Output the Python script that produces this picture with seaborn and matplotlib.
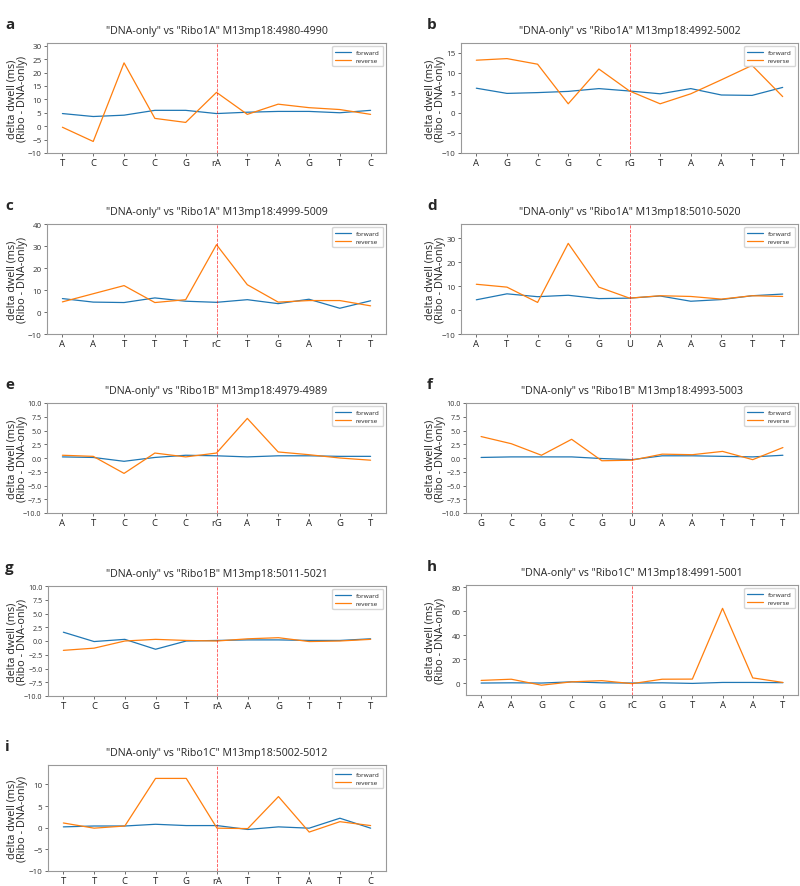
"""
Delta dwell time, Ribo vs DNA-only, per position around the ribonucleotide.
"""

import matplotlib
matplotlib.use("Agg")
import matplotlib.pyplot as plt
import pandas as pd
import seaborn as sns

# ---- data ----
titles = [
    '"DNA-only" vs "Ribo1A" M13mp18:4980-4990',
    '"DNA-only" vs "Ribo1A" M13mp18:4992-5002',
    '"DNA-only" vs "Ribo1A" M13mp18:4999-5009',
    '"DNA-only" vs "Ribo1A" M13mp18:5010-5020',
    '"DNA-only" vs "Ribo1B" M13mp18:4979-4989',
    '"DNA-only" vs "Ribo1B" M13mp18:4993-5003',
    '"DNA-only" vs "Ribo1B" M13mp18:5011-5021',
    '"DNA-only" vs "Ribo1C" M13mp18:4991-5001',
    '"DNA-only" vs "Ribo1C" M13mp18:5002-5012',
]
panel_letters = ["a", "b", "c", "d", "e", "f", "g", "h", "i"]

bases_a = ["T", "C", "C", "C", "G", "rA", "T", "A", "G", "T", "C"]
bases_b = ["A", "G", "C", "G", "C", "rG", "T", "A", "A", "T", "T"]
bases_c = ["A", "A", "T", "T", "T", "rC", "T", "G", "A", "T", "T"]
bases_d = ["A", "T", "C", "G", "G", "U", "A", "A", "G", "T", "T"]
bases_e = ["A", "T", "C", "C", "C", "rG", "A", "T", "A", "G", "T"]
bases_f = ["G", "C", "G", "C", "G", "U", "A", "A", "T", "T", "T"]
bases_g = ["T", "C", "G", "G", "T", "rA", "A", "G", "T", "T", "T"]
bases_h = ["A", "A", "G", "C", "G", "rC", "G", "T", "A", "A", "T"]
bases_i = ["T", "T", "C", "T", "G", "rA", "T", "T", "A", "T", "C"]

fwd_a = [4.7, 3.6, 4.1, 5.9, 5.9, 4.7, 5.2, 5.5, 5.5, 5.0, 5.9]
rev_a = [-0.4, -5.7, 23.6, 2.9, 1.4, 12.6, 4.4, 8.2, 6.9, 6.2, 4.4]
fwd_b = [6.2, 4.9, 5.1, 5.4, 6.1, 5.5, 4.8, 6.1, 4.5, 4.4, 6.4]
rev_b = [13.2, 13.6, 12.2, 2.3, 11.0, 5.5, 2.3, 4.8, 8.3, 11.9, 4.1]
fwd_c = [6.1, 4.5, 4.3, 6.4, 4.9, 4.4, 5.6, 3.8, 5.8, 1.7, 5.1]
rev_c = [4.6, 8.3, 12.0, 4.3, 5.6, 30.6, 12.4, 4.5, 5.2, 5.2, 2.8]
fwd_d = [4.3, 6.8, 5.6, 6.2, 4.8, 5.0, 5.9, 3.7, 4.4, 6.0, 6.7]
rev_d = [10.8, 9.6, 3.2, 27.9, 9.6, 5.0, 6.0, 5.7, 4.6, 6.0, 5.7]
fwd_e = [0.2, 0.1, -0.6, 0.1, 0.5, 0.4, 0.2, 0.4, 0.4, 0.3, 0.3]
rev_e = [0.5, 0.3, -2.8, 0.9, 0.2, 0.9, 7.2, 1.1, 0.6, 0.0, -0.4]
fwd_f = [0.1, 0.2, 0.2, 0.2, -0.1, -0.3, 0.4, 0.4, 0.3, 0.2, 0.5]
rev_f = [3.9, 2.6, 0.5, 3.4, -0.5, -0.4, 0.7, 0.6, 1.2, -0.3, 1.9]
fwd_g = [1.6, -0.1, 0.3, -1.5, 0.0, 0.1, 0.2, 0.2, 0.1, 0.1, 0.4]
rev_g = [-1.7, -1.3, 0.0, 0.3, 0.1, 0.0, 0.4, 0.6, -0.1, 0.0, 0.3]
fwd_h = [0.0, 0.2, 0.0, 1.0, 0.2, 0.0, 0.2, -0.3, 0.5, 0.5, 0.3]
rev_h = [2.2, 3.2, -1.8, 1.0, 2.0, -0.5, 3.2, 3.3, 62.5, 4.3, 0.5]
fwd_i = [0.2, 0.4, 0.4, 0.8, 0.5, 0.5, -0.4, 0.2, -0.1, 2.2, -0.1]
rev_i = [1.1, -0.1, 0.4, 11.4, 11.4, -0.1, -0.2, 7.2, -1.0, 1.4, 0.5]

bases = [bases_a, bases_b, bases_c, bases_d, bases_e, bases_f, bases_g, bases_h, bases_i]
forward = [fwd_a, fwd_b, fwd_c, fwd_d, fwd_e, fwd_f, fwd_g, fwd_h, fwd_i]
reverse = [rev_a, rev_b, rev_c, rev_d, rev_e, rev_f, rev_g, rev_h, rev_i]

# ---- layout (pixels of an 800x887 image) ----
W, H = 800, 887
# left, top, width, height per panel
boxes = [
    (47, 44, 339, 110), (461, 44, 337, 110),
    (47, 225, 339, 110), (461, 225, 337, 110),
    (47, 404, 339, 110), (466, 404, 332, 110),
    (48, 587, 338, 110), (466, 586, 332, 110),
    (48, 766, 338, 106),
]
ylims = [(-10, 31), (-10, 17.5), (-10, 40), (-10, 36), (-10, 10),
         (-10, 10), (-10, 10), (-10, 82), (-10, 14.5)]
ysteps = [5, 5, 10, 10, 2.5, 2.5, 2.5, 20, 5]

sns.set_theme(style="ticks")
plt.rcParams["font.family"] = ["Open Sans", "DejaVu Sans"]

fig = plt.figure(figsize=(W / 100, H / 100), dpi=100)

for k in range(9):
    left, top, width, ax_h = boxes[k]
    ax = fig.add_axes([left / W, 1 - (top + ax_h) / H, width / W, ax_h / H])

    df = pd.DataFrame({
        "pos": list(range(11)) * 2,
        "delta": forward[k] + reverse[k],
        "strand": ["forward"] * 11 + ["reverse"] * 11,
    })
    sns.lineplot(data=df, x="pos", y="delta", hue="strand",
                 palette=["#1f77b4", "#ff7f0e"], linewidth=0.9, ax=ax)
    ax.axvline(5, color="red", linestyle="--", linewidth=0.6, alpha=0.7)

    ax.set_xlim(-0.5, 10.5)
    lo, hi = ylims[k]
    ax.set_ylim(lo, hi)
    start = 0 if k == 7 else -10
    ticks = []
    t = start
    while t <= hi + 1e-9:
        ticks.append(t)
        t += ysteps[k]
    ax.set_yticks(ticks)
    ysize = 5.8
    if ysteps[k] == 2.5:
        ax.set_yticklabels([f"{v:.1f}".replace("-", "\u2212") for v in ticks])
        ysize = 5.2
    ax.set_xticks(range(11))
    ax.set_xticklabels(bases[k])
    ax.tick_params(axis="y", labelsize=ysize, length=2.5, width=0.6,
                   color="#555555", pad=1.5, labelcolor="#333333")
    ax.tick_params(axis="x", labelsize=6.8, length=2.5, width=0.6,
                   color="#555555", pad=1.2, labelcolor="#222222")

    for sp in ax.spines.values():
        sp.set_color("#999999")
        sp.set_linewidth(0.8)

    ax.set_xlabel("")
    ax.set_ylabel("delta dwell (ms)\n(Ribo - DNA-only)", fontsize=7.8,
                  linespacing=0.95)
    # same label position for every panel of a column
    label_right = 28 if left < 200 else 446
    ax.yaxis.set_label_coords((label_right - left) / width, 0.5)

    ax.set_title(titles[k], fontsize=7.7, pad=7)
    ax.legend(loc="upper right", fontsize=4.6, title=None, frameon=True,
              handlelength=2.4, borderpad=0.5, labelspacing=0.4)

    fig.text((5 if left < 200 else 427) / W, 1 - (top - 26) / H,
             panel_letters[k], fontsize=11, fontweight="bold",
             ha="left", va="top")

fig.savefig("out.png", dpi=100, facecolor="white")
